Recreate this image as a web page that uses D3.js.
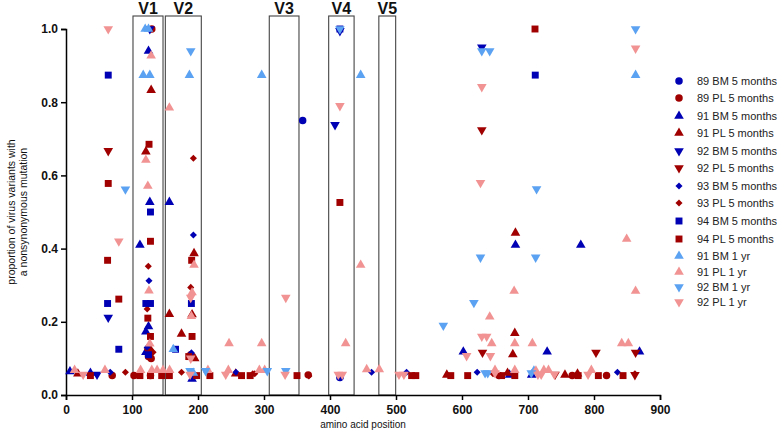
<!DOCTYPE html>
<html><head><meta charset="utf-8">
<script src="https://cdn.jsdelivr.net/npm/d3@7"></script>
<style>body{margin:0;background:#fff}svg{display:block;font-family:Arial,"Liberation Sans",sans-serif}</style>
</head><body><svg id="c" width="777" height="433"></svg>
<script>
// ---- data ----
const xTicks = [0,100,200,300,400,500,600,700,800,900];
const yTicks = [0.0,0.2,0.4,0.6,0.8,1.0];
const regionNames = ["V1","V2","V3","V4","V5"];
const regionStart = [101.5,150.5,308,398,474];
const regionEnd = [147,205,353,436.5,499.5];

const seriesNames = ["89 BM 5 months","89 PL 5 months","91 BM 5 months","91 PL 5 months","92 BM 5 months","92 PL 5 months","93 BM 5 months","93 PL 5 months","94 BM 5 months","94 PL 5 months","91 BM 1 yr","91 PL 1 yr","92 BM 1 yr","92 PL 1 yr"];

const s89BM5 = [[358.6,0.75],[415,0.048],[125,0.11]];
const s89PL5 = [[130,1.0],[125,0.105],[129,0.1],[189,0.11],[70,0.053],[103,0.053],[367,0.055],[767,0.053],[819,0.053],[656,0.053],[128,0.053]];
const s91BM5 = [[125,0.94],[127,0.527],[156.6,0.527],[112,0.41],[125,0.187],[121,0.173],[121,0.117],[125,0.117],[6,0.064],[37,0.06],[191,0.044],[681,0.41],[602,0.118],[729,0.118],[780,0.41],[869,0.118],[705.6,0.055],[672,0.055]];
const s91PL5 = [[129,0.833],[121,0.665],[194,0.387],[156.6,0.221],[191,0.22],[175,0.167],[18,0.058],[257,0.058],[577,0.055],[681,0.443],[680,0.169],[677,0.111],[669,0.06],[756,0.055],[126,0.13],[195,0.1],[775,0.058]];
const s92BM5 = [[127,1.0],[630,0.95],[407.6,0.738],[64,0.212],[47,0.056],[415,0.995]];
const s92PL5 = [[64,0.667],[630,0.724],[631,0.116],[741,0.056],[803,0.116],[863,0.116],[862,0.055],[125,0.12]];
const s93BM5 = [[193,0.437],[125.7,0.312],[67,0.062],[257.6,0.062],[416,0.047],[463,0.062],[516,0.062],[623,0.062],[835.5,0.062],[190,0.115],[123,0.13]];
const s93PL5 = [[193,0.647],[124.7,0.352],[189,0.294],[123,0.235],[132,0.117],[90,0.062],[175,0.062],[283,0.058],[286,0.058],[368,0.052],[647,0.058],[862,0.058],[128,0.12]];
const s94BM5 = [[64,0.874],[415,1.0],[711,0.874],[128,0.5],[63,0.25],[121,0.25],[128,0.25],[190,0.25],[80,0.125],[166,0.125],[125,0.11]];
const s94PL5 = [[710.6,1.0],[125.8,0.685],[64,0.578],[415,0.526],[128,0.42],[63,0.368],[190.4,0.368],[80,0.262],[124,0.21],[128,0.16],[191,0.16],[186,0.105],[37,0.053],[112,0.053],[128,0.053],[145,0.053],[156.6,0.053],[198,0.053],[218,0.053],[266,0.053],[279,0.053],[350,0.053],[523.7,0.053],[530,0.053],[583,0.053],[608.6,0.053],[660,0.053],[776,0.053],[806.6,0.053],[844,0.053],[680,0.053]];
const s91BM1 = [[120,1.0],[125,1.0],[117,0.874],[127,0.874],[187,0.874],[296.5,0.874],[446.5,0.874],[863,0.874],[162.6,0.125],[709,0.066],[193,0.06]];
const s91PL1 = [[129,0.927],[156.6,0.785],[121,0.642],[124,0.571],[125.7,0.285],[191,0.28],[194,0.355],[190,0.215],[127,0.14],[247,0.141],[296.5,0.141],[446.5,0.355],[679,0.284],[642,0.214],[645,0.141],[680,0.141],[706.6,0.141],[423.7,0.141],[849.5,0.426],[863,0.284],[842,0.141],[852,0.141],[455.6,0.07],[474.7,0.07],[13,0.068],[59,0.068],[113,0.068],[130,0.068],[138,0.068],[147,0.068],[157,0.068],[215,0.068],[246,0.068],[293,0.068],[301,0.068],[680,0.068],[712,0.066],[724,0.068],[731,0.068],[796,0.068],[650,0.068]];
const s92BM1 = [[415,1.0],[630,0.94],[642,0.94],[863,1.0],[189,0.94],[90,0.562],[713,0.563],[628,0.376],[711.6,0.376],[618,0.252],[571.7,0.19],[211.6,0.066],[305,0.066],[333,0.066],[635,0.06],[639,0.06],[188,0.066],[705,0.06]];
const s92PL1 = [[64,1.0],[863,0.947],[630,0.842],[415,0.79],[628,0.58],[80,0.42],[189,0.266],[333,0.266],[630,0.16],[637.4,0.16],[607,0.107],[643,0.107],[189,0.1],[26,0.056],[188,0.056],[242,0.056],[332,0.056],[412.6,0.056],[418.6,0.056],[504.5,0.056],[512,0.056],[715,0.056],[720,0.056],[740,0.056],[791,0.056],[650,0.06]];

const seriesData = [s89BM5,s89PL5,s91BM5,s91PL5,s92BM5,s92PL5,s93BM5,s93PL5,s94BM5,s94PL5,s91BM1,s91PL1,s92BM1,s92PL1];

// ---- styling ----
const DB="#0000b4", DR="#a00000", LB="#5ca2f2", PK="#f29393";
const styles = [
 {c:DB,t:"circle"},{c:DR,t:"circle"},{c:DB,t:"up"},{c:DR,t:"up"},{c:DB,t:"down"},{c:DR,t:"down"},
 {c:DB,t:"diamond"},{c:DR,t:"diamond"},{c:DB,t:"square"},{c:DR,t:"square"},
 {c:LB,t:"up"},{c:PK,t:"up"},{c:LB,t:"down"},{c:PK,t:"down"}];

const svg = d3.select("#c");
const x = d3.scaleLinear().domain([0,900]).range([66,660]);
const y = d3.scaleLinear().domain([0,1]).range([395,29]);

function sym(t){
  if(t==="circle") return {p:d3.symbol(d3.symbolCircle,44)(),r:0};
  if(t==="up") return {p:d3.symbol(d3.symbolTriangle,40)(),r:0};
  if(t==="down") return {p:d3.symbol(d3.symbolTriangle,40)(),r:180};
  if(t==="diamond") return {p:d3.symbol(d3.symbolSquare,25)(),r:45};
  return {p:d3.symbol(d3.symbolSquare,48)(),r:0};
}

// regions
const rg = svg.append("g");
regionNames.forEach((n,i)=>{
  rg.append("rect").attr("x",x(regionStart[i])).attr("y",16)
    .attr("width",x(regionEnd[i])-x(regionStart[i])).attr("height",395-16)
    .attr("fill","none").attr("stroke","#444").attr("stroke-width",1.1);
  rg.append("text").attr("x",(x(regionStart[i])+x(regionEnd[i]))/2).attr("y",14)
    .attr("text-anchor","middle").attr("font-weight","bold").attr("font-size",16).attr("fill","#111").text(n);
});

// axes
const xa = svg.append("g").attr("transform","translate(0,395)")
  .call(d3.axisBottom(x).tickValues(xTicks).tickSize(5).tickFormat(d3.format("d")));
const ya = svg.append("g").attr("transform","translate(66,0)")
  .call(d3.axisLeft(y).tickValues(yTicks).tickSize(5).tickFormat(d3.format(".1f")));
[xa,ya].forEach(a=>{
  a.select(".domain").attr("stroke","#000").attr("stroke-width",1.5);
  a.selectAll(".tick line").attr("stroke","#000").attr("stroke-width",1.5);
  a.selectAll("text").attr("font-size",12).attr("font-weight","bold").attr("fill","#111");
});
xa.selectAll("text").attr("dy","0.9em");

svg.append("text").attr("x",363).attr("y",428).attr("text-anchor","middle").attr("font-size",10).attr("fill","#111").text("amino acid position");
const yt = svg.append("text").attr("transform","translate(15,212) rotate(-90)").attr("text-anchor","middle").attr("font-size",10.5).attr("fill","#111");
yt.append("tspan").attr("x",0).attr("dy",0).text("proportion of virus variants with");
yt.append("tspan").attr("x",0).attr("dy",12).text("a nonsynonymous mutation");

// points
const pg = svg.append("g");
seriesData.forEach((data,i)=>{
  const s = sym(styles[i].t);
  pg.selectAll(null).data(data).join("path")
    .attr("d",s.p).attr("fill",styles[i].c)
    .attr("transform",d=>`translate(${x(d[0])},${y(d[1])}) rotate(${s.r})`);
});

// legend
const legY = [81,98,116,133,151,168,186,203,221,239,256,272,287,302];
const lg = svg.append("g");
seriesNames.forEach((n,i)=>{
  const s = sym(styles[i].t);
  lg.append("path").attr("d",s.p).attr("fill",styles[i].c)
    .attr("transform",`translate(679,${legY[i]}) rotate(${s.r})`);
  lg.append("text").attr("x",697).attr("y",legY[i]).attr("dy","0.35em").attr("font-size",11).attr("fill","#222").text(n);
});
</script></body></html>
